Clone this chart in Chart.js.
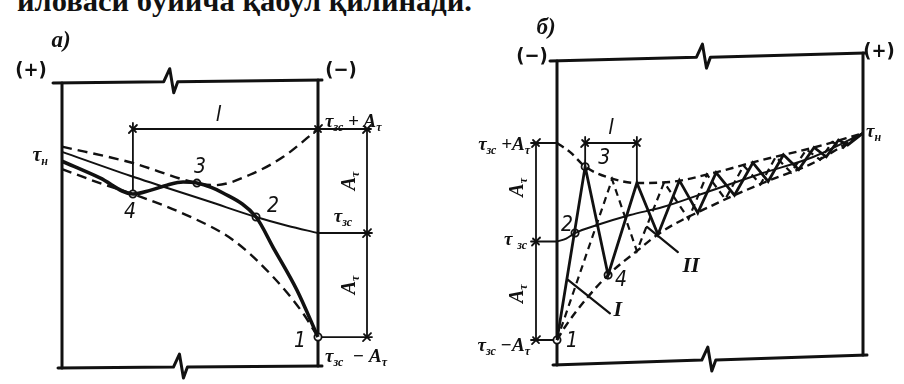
<!DOCTYPE html>
<html lang="uz">
<head>
<meta charset="UTF-8">
<title>Температура тебраниши</title>
<script src="https://cdn.jsdelivr.net/npm/chart.js"></script>
<style>
  body { margin: 0; background: #fff; width: 904px; height: 384px; overflow: hidden; position: relative; }
  .head { position: absolute; left: 17px; top: -13px; font: bold 29px "Liberation Serif", "DejaVu Serif", serif; line-height: 29px; white-space: nowrap; transform-origin: 0 0; color: #111; }
  canvas { position: absolute; top: 0; }
  #chartA { left: 0; }
  #chartB { left: 450px; }
</style>
</head>
<body>
<div class="head" id="head">иловаси бўйича қабул қилинади.</div>
<canvas id="chartA" width="450" height="384"></canvas>
<canvas id="chartB" width="454" height="384"></canvas>
<script>
// x — brus uzunligi bo'yicha ulush (0 — chap devor, 1 — o'ng devor)
// y — harorat, τзс = 0, Aτ = 1 birlik

// а) sxema
const aUpperDash = [[0,0.83],[0.266,0.68],[0.527,0.48],[0.598,0.46],[0.734,0.56],[0.863,0.73],[1,1]];
const aThin      = [[0,0.78],[0.266,0.55],[0.578,0.30],[0.758,0.154],[0.88,0.07],[1,0]];
const aThick     = [[0,0.69],[0.148,0.53],[0.277,0.375],[0.344,0.41],[0.41,0.46],[0.473,0.49],[0.527,0.48],[0.629,0.385],[0.758,0.154],[0.824,-0.135],[0.918,-0.55],[1,-1]];
const aLowerDash = [[0,0.615],[0.148,0.48],[0.277,0.375],[0.512,0.144],[0.668,-0.067],[0.824,-0.42],[0.941,-0.77],[1,-1]];
const aPoints    = [[1,-1],[0.758,0.154],[0.527,0.48],[0.277,0.375]];

// б) sxema
const bUpperDash = [[0,1.0],[0.042,0.91],[0.092,0.76],[0.173,0.645],[0.261,0.594],[0.369,0.604],[0.51,0.695],[0.673,0.83],[0.837,0.952],[1,1.10]];
const bMiddle    = [[0,0],[0.03,0.03],[0.059,0.086],[0.131,0.167],[0.239,0.269],[0.346,0.35],[0.51,0.523],[0.673,0.695],[0.837,0.858],[1,1.10]];
const bLowerDash = [[0,-1],[0.026,-0.868],[0.098,-0.574],[0.167,-0.34],[0.261,-0.096],[0.346,0.107],[0.51,0.37],[0.673,0.594],[0.837,0.797],[1,1.10]];
const bZigSolid  = [[0,-1],[0.092,0.76],[0.167,-0.34],[0.261,0.594],[0.33,0.07],[0.40,0.62],[0.46,0.29],[0.52,0.70],[0.58,0.47],[0.64,0.80],[0.69,0.61],[0.74,0.88],[0.79,0.73],[0.84,0.955],[0.88,0.86],[0.92,1.03],[0.95,0.98],[1,1.10]];
const bZigDash   = [[0,-1],[0.18,0.63],[0.261,-0.096],[0.35,0.60],[0.43,0.23],[0.49,0.68],[0.55,0.43],[0.61,0.77],[0.665,0.58],[0.715,0.86],[0.765,0.70],[0.815,0.935],[0.86,0.83],[0.90,1.01],[0.935,0.95],[0.97,1.06],[1,1.10]];
const bPoints    = [[0,-1],[0.059,0.086],[0.092,0.76],[0.167,-0.34]];

const pointNames = ['1', '2', '3', '4'];

const INK = '#111';
const SERIF = '"Liberation Serif", "DejaVu Serif", serif';
const SANS = '"Liberation Sans Narrow", "DejaVu Sans Condensed", "Liberation Sans", sans-serif';

// header fits the line width of the page
const head = document.getElementById('head');
head.style.transform = 'scaleX(' + (455 / head.getBoundingClientRect().width) + ')';

const pts = arr => arr.map(([x, y]) => ({ x, y }));

function curve(data, width, dash, smooth) {
  return {
    data: pts(data), showLine: true, borderColor: INK, borderWidth: width,
    borderDash: dash || [], pointRadius: 0, fill: false, clip: false,
    cubicInterpolationMode: smooth ? 'monotone' : 'default', tension: 0
  };
}

function markers(data) {
  return {
    data: pts(data), showLine: false, pointRadius: 3.6, pointBorderWidth: 1.8,
    pointBackgroundColor: '#fff', pointBorderColor: INK, clip: false
  };
}

function line(ctx, x1, y1, x2, y2) {
  ctx.beginPath(); ctx.moveTo(x1, y1); ctx.lineTo(x2, y2); ctx.stroke();
}

function cross(ctx, x, y) {
  line(ctx, x - 4, y + 4, x + 4, y - 4);
  line(ctx, x - 3, y - 3, x + 3, y + 3);
}

// frame with a break mark on the top and bottom edges
function frame(ctx, a, f) {
  const spike = [[-6, 0], [0, -13], [4, 11], [8, 0]];
  const edge = (x1, y1, x2, y2, fr) => {
    const bx = x1 + (x2 - x1) * fr, by = y1 + (y2 - y1) * fr;
    ctx.beginPath(); ctx.moveTo(x1, y1);
    spike.forEach(([dx, dy]) => ctx.lineTo(bx + dx, by + dy));
    ctx.lineTo(x2, y2); ctx.stroke();
  };
  ctx.lineWidth = 3;
  edge(a.left - f.extL, a.top + f.tl, a.right + f.extR, a.top + f.tr, f.brkT);
  edge(a.left - 4, a.bottom + f.bl, a.right + 4, a.bottom + f.br, f.brkB);
  line(ctx, a.left, a.top + f.tl, a.left, a.bottom + f.bl);
  line(ctx, a.right, a.top + f.tr, a.right, a.bottom + f.br);
}

// text with subscripts: parts = [[text, isSub], ...]
function rich(ctx, x, y, parts, size, align, fam) {
  const fonts = parts.map(p => 'italic bold ' + Math.round(p[1] ? size * 0.62 : size) + 'px ' + (fam || SERIF));
  const widths = parts.map((p, i) => { ctx.font = fonts[i]; return ctx.measureText(p[0]).width; });
  const total = widths.reduce((s, w) => s + w, 0);
  let cx = align === 'right' ? x - total : align === 'center' ? x - total / 2 : x;
  ctx.textAlign = 'left'; ctx.textBaseline = 'middle';
  parts.forEach((p, i) => {
    ctx.font = fonts[i];
    ctx.fillText(p[0], cx, p[1] ? y + size * 0.3 : y);
    cx += widths[i];
  });
}

function plain(ctx, x, y, text, font) {
  ctx.font = font; ctx.textAlign = 'center'; ctx.textBaseline = 'middle';
  ctx.fillText(text, x, y);
}

function rotated(ctx, x, y, parts, size) {
  ctx.save(); ctx.translate(x, y); ctx.rotate(-Math.PI / 2);
  rich(ctx, 0, 0, parts, size, 'center');
  ctx.restore();
}

const NUM = 'italic 21px ' + SANS;
const SIGN = 'bold 20px ' + SANS;
const tauSc = [['τ', 0], ['зс', 1]];
const A = [['A', 0], ['τ', 1]];

const decorA = {
  id: 'decorA',
  beforeDatasetsDraw(chart) {
    const { ctx, chartArea: a, scales: { x, y } } = chart;
    const X = v => x.getPixelForValue(v), Y = v => y.getPixelForValue(v);
    ctx.save();
    ctx.strokeStyle = INK; ctx.lineCap = 'round'; ctx.lineJoin = 'round';
    frame(ctx, a, { tl: 3, tr: 0, bl: 1, br: -1, extL: 9, extR: 4, brkT: 0.434, brkB: 0.46 });

    // размер l и амплитуды справа
    ctx.lineWidth = 1.8;
    const x4 = X(aPoints[3][0]);
    const xd = X(1) + 49;
    line(ctx, x4, Y(1), xd + 4, Y(1));
    line(ctx, x4, Y(1) - 6, x4, Y(aPoints[3][1]));
    line(ctx, X(1), Y(0), xd + 5, Y(0));
    line(ctx, X(1) + 4, Y(-1), xd + 5, Y(-1));
    line(ctx, xd, Y(1), xd, Y(-1));
    [1, 0, -1].forEach(v => cross(ctx, xd, Y(v)));
    cross(ctx, x4, Y(1));
    cross(ctx, X(1), Y(1));
    ctx.restore();
  },
  afterDraw(chart) {
    const { ctx, chartArea: a, scales: { x, y } } = chart;
    const X = v => x.getPixelForValue(v), Y = v => y.getPixelForValue(v);
    ctx.save();
    ctx.fillStyle = INK;
    plain(ctx, X(0) - 31, a.top - 9, '(+)', SIGN);
    plain(ctx, X(1) + 23, a.top - 9, '(−)', SIGN);
    plain(ctx, X(0) - 1, a.top - 39, 'а)', 'italic bold 23px ' + SERIF);
    rich(ctx, X(0) - 14, Y(0.74), [['τ', 0], ['н', 1]], 20, 'right');
    rich(ctx, X(1) + 7, Y(1) - 7, tauSc.concat([[' + ', 0]], A), 19, 'left');
    rich(ctx, X(1) + 25, Y(0) - 16, tauSc, 19, 'center');
    rich(ctx, X(1) + 7, Y(-1) + 20, tauSc.concat([['  − ', 0]], A), 19, 'left');
    rotated(ctx, X(1) + 32, Y(0.5), A, 20);
    rotated(ctx, X(1) + 32, Y(-0.5), A, 20);
    plain(ctx, (X(aPoints[3][0]) + X(1)) / 2 - 7, Y(1) - 14, 'l', 'italic 22px ' + SANS);
    const off = [[-18, 5], [17, -10], [3, -16], [-3, 19]];
    aPoints.forEach((p, i) => plain(ctx, X(p[0]) + off[i][0], Y(p[1]) + off[i][1], pointNames[i], NUM));
    ctx.restore();
  }
};

const decorB = {
  id: 'decorB',
  beforeDatasetsDraw(chart) {
    const { ctx, chartArea: a, scales: { x, y } } = chart;
    const X = v => x.getPixelForValue(v), Y = v => y.getPixelForValue(v);
    ctx.save();
    ctx.strokeStyle = INK; ctx.lineCap = 'round'; ctx.lineJoin = 'round';
    frame(ctx, a, { tl: 4, tr: -4, bl: 4, br: -6, extL: 7, extR: 2, brkT: 0.484, brkB: 0.493 });

    ctx.lineWidth = 1.8;
    // амплитуды слева
    const xd = X(0) - 21;
    line(ctx, xd, Y(1), xd, Y(-1));
    [1, 0, -1].forEach(v => { line(ctx, xd - 5, Y(v), X(0), Y(v)); cross(ctx, xd, Y(v)); });
    // размер l между точкой 3 и следующей вершиной
    const x3 = X(bPoints[2][0]), xu = X(bZigSolid[3][0]);
    line(ctx, x3, Y(1), xu, Y(1));
    line(ctx, x3, Y(1) - 6, x3, Y(bPoints[2][1]));
    line(ctx, xu, Y(1) - 6, xu, Y(bZigSolid[3][1]));
    cross(ctx, x3, Y(1)); cross(ctx, xu, Y(1));
    // выноски I и II
    ctx.lineWidth = 2.2;
    line(ctx, X(0.036), Y(-0.39), X(0.173), Y(-0.73));
    line(ctx, X(0.294), Y(0.148), X(0.395), Y(-0.107));
    ctx.restore();
  },
  afterDraw(chart) {
    const { ctx, chartArea: a, scales: { x, y } } = chart;
    const X = v => x.getPixelForValue(v), Y = v => y.getPixelForValue(v);
    ctx.save();
    ctx.fillStyle = INK;
    plain(ctx, X(0) - 25, a.top, '(−)', SIGN);
    plain(ctx, X(1) + 16, a.top - 5, '(+)', SIGN);
    plain(ctx, X(0) - 11, a.top - 29, 'б)', 'italic bold 23px ' + SERIF);
    rich(ctx, X(0) - 27, Y(1) + 2, tauSc.concat([[' +', 0]], A), 19, 'right');
    rich(ctx, X(0) - 30, Y(0) - 1, [['τ ', 0], ['зс', 1]], 19, 'right');
    rich(ctx, X(0) - 27, Y(-1) + 6, tauSc.concat([[' −', 0]], A), 19, 'right');
    rotated(ctx, X(0) - 39, Y(0.55), A, 20);
    rotated(ctx, X(0) - 39, Y(-0.53), A, 20);
    rich(ctx, X(1) + 3, Y(1.10) - 1, [['τ', 0], ['н', 1]], 19, 'left');
    plain(ctx, (X(bPoints[2][0]) + X(bZigSolid[3][0])) / 2, Y(1) - 15, 'l', 'italic 22px ' + SANS);
    plain(ctx, X(0.199), Y(-0.70), 'I', 'italic bold 22px ' + SERIF);
    plain(ctx, X(0.438), Y(-0.25), 'II', 'italic bold 22px ' + SERIF);
    const off = [[15, 2], [-8, -7], [19, -8], [13, 6]];
    bPoints.forEach((p, i) => plain(ctx, X(p[0]) + off[i][0], Y(p[1]) + off[i][1], pointNames[i], NUM));
    ctx.restore();
  }
};

function makeChart(id, datasets, padding, yMin, yMax, plugin) {
  return new Chart(document.getElementById(id), {
    type: 'scatter',
    data: { datasets },
    options: {
      responsive: false, animation: false, events: [],
      layout: { padding },
      plugins: { legend: { display: false }, tooltip: { enabled: false } },
      scales: {
        x: { type: 'linear', min: 0, max: 1, display: false },
        y: { type: 'linear', min: yMin, max: yMax, display: false }
      }
    },
    plugins: [plugin]
  });
}

makeChart('chartA', [
  curve(aUpperDash, 2.4, [10, 6], true),
  curve(aThin, 2, null, true),
  curve(aLowerDash, 2.4, [10, 6], true),
  curve(aThick, 3.6, null, true),
  markers(aPoints)
], { left: 62, right: 132, top: 80, bottom: 17 }, -1.288, 1.471, decorA);

makeChart('chartB', [
  curve(bUpperDash, 2.4, [8, 5], true),
  curve(bMiddle, 2, null, true),
  curve(bLowerDash, 2.4, [8, 5], true),
  curve(bZigDash, 2.2, [7, 5], false),
  curve(bZigSolid, 2.8, null, false),
  markers(bPoints)
], { left: 107, right: 41, top: 57, bottom: 23 }, -1.213, 1.873, decorB);
</script>
</body>
</html>
